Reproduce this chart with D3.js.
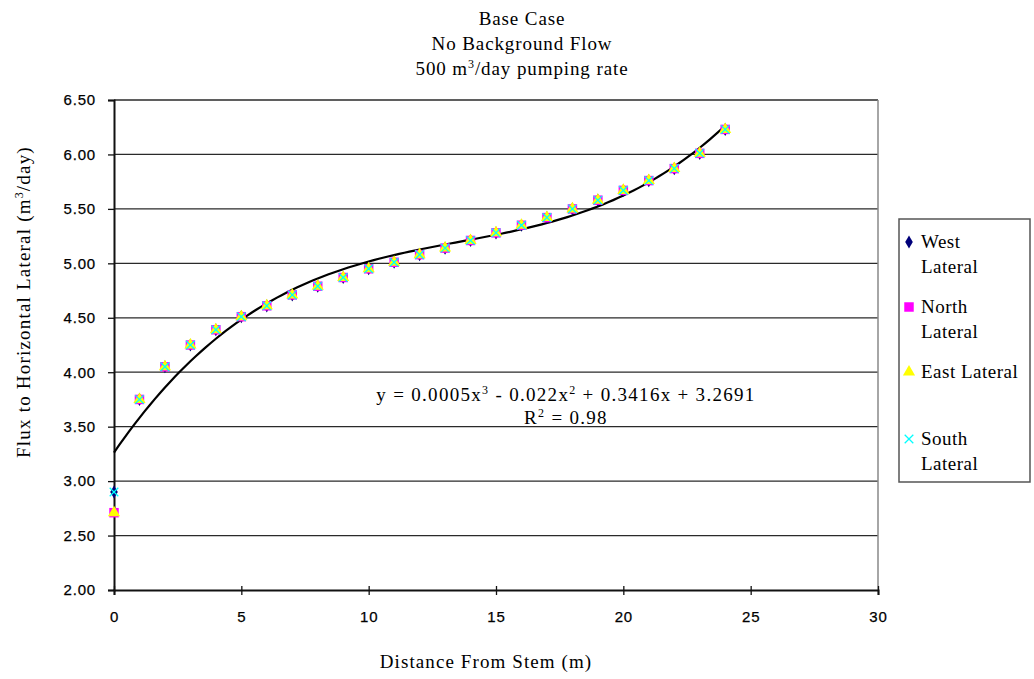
<!DOCTYPE html>
<html>
<head>
<meta charset="utf-8">
<script src="https://cdn.jsdelivr.net/npm/d3@7"></script>
<style>
  body { margin: 0; background: #fff; }
  svg { display: block; }
  .serif { font-family: "Liberation Serif", "Times New Roman", serif; fill: #000; }
  .tick text { font-family: "Liberation Sans", Arial, sans-serif; font-size: 15px; letter-spacing: 0.8px; fill: #000; stroke: #000; stroke-width: 0.25px; }
</style>
</head>
<body>
<svg id="chart" width="1034" height="679"></svg>
<script>
// Distance from stem (m)
const distances = [0, 1, 2, 3, 4, 5, 6, 7, 8, 9, 10, 11, 12, 13, 14, 15, 16, 17, 18, 19, 20, 21, 22, 23, 24];

// Flux values (m3/day) for each lateral
const westLateral  = [2.90, 3.75, 4.05, 4.25, 4.39, 4.51, 4.61, 4.71, 4.79, 4.87, 4.95, 5.01, 5.08, 5.14, 5.21, 5.28, 5.35, 5.42, 5.50, 5.58, 5.67, 5.76, 5.87, 6.01, 6.23];
const northLateral = [2.71, 3.75, 4.05, 4.25, 4.39, 4.51, 4.61, 4.71, 4.79, 4.87, 4.95, 5.01, 5.08, 5.14, 5.21, 5.28, 5.35, 5.42, 5.50, 5.58, 5.67, 5.76, 5.87, 6.01, 6.23];
const eastLateral  = [2.71, 3.75, 4.05, 4.25, 4.39, 4.51, 4.61, 4.71, 4.79, 4.87, 4.95, 5.01, 5.08, 5.14, 5.21, 5.28, 5.35, 5.42, 5.50, 5.58, 5.67, 5.76, 5.87, 6.01, 6.23];
const southLateral = [2.90, 3.75, 4.05, 4.25, 4.39, 4.51, 4.61, 4.71, 4.79, 4.87, 4.95, 5.01, 5.08, 5.14, 5.21, 5.28, 5.35, 5.42, 5.50, 5.58, 5.67, 5.76, 5.87, 6.01, 6.23];

const seriesNames = ['West Lateral', 'North Lateral', 'East Lateral', 'South Lateral'];
const xTicks = [0, 5, 10, 15, 20, 25, 30];
const yTicks = [2.0, 2.5, 3.0, 3.5, 4.0, 4.5, 5.0, 5.5, 6.0, 6.5];

const svg = d3.select('#chart');
const margin = { left: 114, right: 878, top: 100, bottom: 590 };

const x = d3.scaleLinear().domain([0, 30]).range([margin.left, margin.right]);
const y = d3.scaleLinear().domain([2, 6.5]).range([margin.bottom, margin.top]);

// Gridlines
svg.append('g').selectAll('line').data(yTicks.slice(1))
  .enter().append('line')
    .attr('x1', margin.left).attr('x2', margin.right)
    .attr('y1', d => y(d)).attr('y2', d => y(d))
    .attr('stroke', '#2a2a2a').attr('stroke-width', 1.3);

// Right border of plot area
svg.append('line')
  .attr('x1', margin.right).attr('x2', margin.right)
  .attr('y1', margin.top).attr('y2', margin.bottom)
  .attr('stroke', '#888').attr('stroke-width', 1.5);

// Axes
const yAxis = d3.axisLeft(y).tickValues(yTicks).tickFormat(d3.format('.2f')).tickSize(6).tickPadding(12);
const xAxis = d3.axisBottom(x).tickValues(xTicks).tickFormat(d3.format('d')).tickSize(5).tickPadding(16);

const gy = svg.append('g').attr('transform', `translate(${margin.left},0)`).call(yAxis);
const gx = svg.append('g').attr('transform', `translate(0,${margin.bottom})`).call(xAxis);
[gx, gy].forEach(g => {
  g.select('.domain').attr('stroke', '#111').attr('stroke-width', 2);
  g.selectAll('.tick line').attr('stroke', '#111').attr('stroke-width', 1.3);
});
gx.selectAll('.tick line').attr('y1', -4);

// Cubic least-squares trendline (fit to the West Lateral series)
function cubicFit(xs, ys) {
  const n = 4;
  const A = Array.from({ length: n }, () => new Array(n + 1).fill(0));
  xs.forEach((xv, k) => {
    for (let i = 0; i < n; i++) {
      for (let j = 0; j < n; j++) A[i][j] += Math.pow(xv, i + j);
      A[i][n] += ys[k] * Math.pow(xv, i);
    }
  });
  for (let c = 0; c < n; c++) {
    let p = c;
    for (let r = c + 1; r < n; r++) if (Math.abs(A[r][c]) > Math.abs(A[p][c])) p = r;
    [A[c], A[p]] = [A[p], A[c]];
    for (let r = 0; r < n; r++) {
      if (r === c) continue;
      const f = A[r][c] / A[c][c];
      for (let k = c; k <= n; k++) A[r][k] -= f * A[c][k];
    }
  }
  return A.map((row, i) => row[n] / row[i]);
}
const coef = cubicFit(distances, westLateral);
const trend = d3.range(0, 24.01, 0.2).map(t => [t, coef[0] + coef[1] * t + coef[2] * t * t + coef[3] * t * t * t]);

svg.append('path')
  .datum(trend)
  .attr('d', d3.line().x(d => x(d[0])).y(d => y(d[1])))
  .attr('fill', 'none')
  .attr('stroke', '#000')
  .attr('stroke-width', 2.2);

// Markers
const markerStyles = [
  { symbol: d3.symbolDiamond, size: 50, fill: '#00007a', stroke: 'none' },
  { symbol: d3.symbolSquare, size: 90, fill: '#ff00ff', stroke: 'none' },
  { symbol: d3.symbolTriangle, size: 64, fill: '#ffff00', stroke: 'none' },
  { symbol: d3.symbolX, size: 50, fill: 'none', stroke: '#00ffff' }
];
const allSeries = [westLateral, northLateral, eastLateral, southLateral];

allSeries.forEach((vals, i) => {
  const st = markerStyles[i];
  svg.append('g').selectAll('path').data(vals)
    .enter().append('path')
      .attr('transform', (d, k) => `translate(${x(distances[k])},${y(d)})`)
      .attr('d', d3.symbol().type(st.symbol).size(st.size))
      .attr('fill', st.fill)
      .attr('stroke', st.stroke)
      .attr('stroke-width', 1.3);
});

// Title
const title = svg.append('text').attr('class', 'serif').attr('text-anchor', 'middle')
  .attr('font-size', 19).attr('letter-spacing', 0.9);
title.append('tspan').attr('x', 522).attr('y', 25).text('Base Case');
title.append('tspan').attr('x', 522).attr('y', 50).text('No Background Flow');
const t3 = title.append('tspan').attr('x', 522).attr('y', 75);
t3.append('tspan').text('500 m');
t3.append('tspan').attr('dy', -7).attr('font-size', 12).text('3');
t3.append('tspan').attr('dy', 7).text('/day pumping rate');

// Axis titles
svg.append('text').attr('class', 'serif').attr('text-anchor', 'middle')
  .attr('font-size', 19).attr('letter-spacing', 1.1)
  .attr('x', 486).attr('y', 668).text('Distance From Stem (m)');

const yl = svg.append('text').attr('class', 'serif').attr('text-anchor', 'middle')
  .attr('font-size', 19).attr('letter-spacing', 1.2)
  .attr('transform', 'translate(30,302) rotate(-90)');
yl.append('tspan').text('Flux to Horizontal Lateral (m');
yl.append('tspan').attr('dy', -7).attr('font-size', 12).text('3');
yl.append('tspan').attr('dy', 7).text('/day)');

// Trendline equation
const eq = svg.append('text').attr('class', 'serif').attr('text-anchor', 'middle')
  .attr('font-size', 19).attr('letter-spacing', 1.3);
const e1 = eq.append('tspan').attr('x', 566).attr('y', 401);
e1.append('tspan').text('y = 0.0005x');
e1.append('tspan').attr('dy', -7).attr('font-size', 12).text('3');
e1.append('tspan').attr('dy', 7).text(' - 0.022x');
e1.append('tspan').attr('dy', -7).attr('font-size', 12).text('2');
e1.append('tspan').attr('dy', 7).text(' + 0.3416x + 3.2691');
const e2 = eq.append('tspan').attr('x', 566).attr('y', 424);
e2.append('tspan').text('R');
e2.append('tspan').attr('dy', -7).attr('font-size', 12).text('2');
e2.append('tspan').attr('dy', 7).text(' = 0.98');

// Legend
const legend = svg.append('g');
legend.append('rect')
  .attr('x', 899).attr('y', 219).attr('width', 131).attr('height', 263)
  .attr('fill', '#fff').attr('stroke', '#555').attr('stroke-width', 1.5);

const legendLines = [['West', 'Lateral'], ['North', 'Lateral'], ['East Lateral'], ['South', 'Lateral']];
const legendY = [248, 313, 378, 445];
seriesNames.forEach((name, i) => {
  const st = markerStyles[i];
  const ly = legendY[i];
  legend.append('path')
    .attr('transform', `translate(909,${ly - 6})`)
    .attr('d', d3.symbol().type(st.symbol).size(st.size))
    .attr('fill', st.fill).attr('stroke', st.stroke).attr('stroke-width', 1.3);
  const txt = legend.append('text').attr('class', 'serif').attr('font-size', 19).attr('letter-spacing', 0.5);
  legendLines[i].forEach((line, j) => {
    txt.append('tspan').attr('x', 921).attr('y', ly + j * 25).text(line);
  });
});
</script>
</body>
</html>
